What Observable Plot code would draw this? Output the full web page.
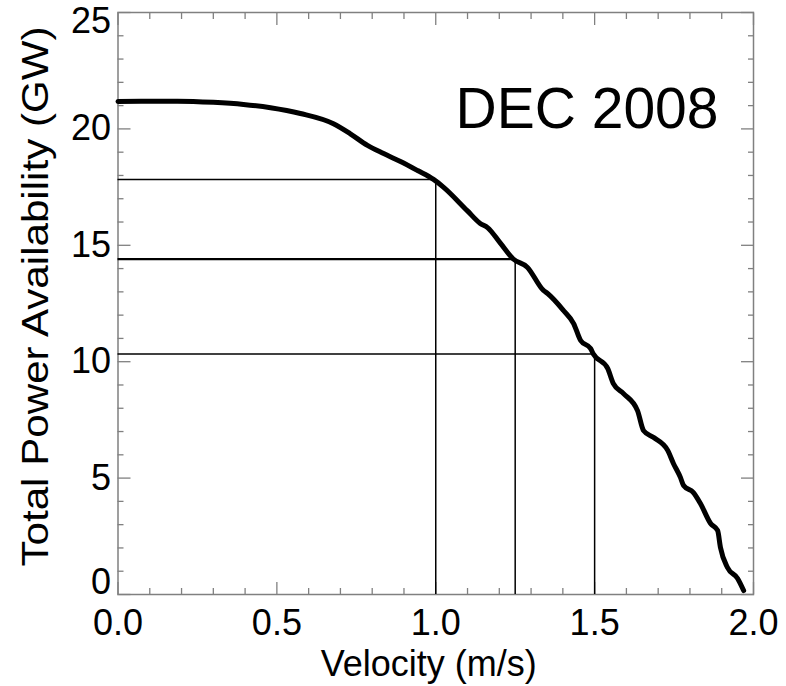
<!DOCTYPE html>
<html>
<head>
<meta charset="utf-8">
<script src="https://cdn.jsdelivr.net/npm/d3@7"></script>
<script src="https://cdn.jsdelivr.net/npm/@observablehq/plot@0.6"></script>
<style>
  html, body { margin: 0; padding: 0; background: #fff; }
  #chart svg { display: block; }
</style>
</head>
<body>
<div id="chart"></div>
<script>
const velocity = [0.0, 0.187, 0.3, 0.395, 0.48, 0.574, 0.678, 0.73, 0.785, 0.836, 0.889, 0.943, 0.993,
  1.024, 1.099, 1.14, 1.163, 1.204, 1.244, 1.288, 1.339, 1.352, 1.402, 1.434, 1.456, 1.487, 1.496,
  1.541, 1.559, 1.591, 1.635, 1.654, 1.686, 1.73, 1.748, 1.77, 1.78, 1.811, 1.833, 1.865, 1.887,
  1.896, 1.918, 1.95, 1.969];
const power = [21.18, 21.19, 21.14, 21.05, 20.91, 20.66, 20.22, 19.8, 19.29, 18.94, 18.6, 18.21, 17.83,
  17.5, 16.49, 15.94, 15.76, 15.08, 14.41, 14.06, 13.06, 12.93, 12.2, 11.64, 10.91, 10.57, 10.33,
  9.71, 9.06, 8.63, 7.9, 7.04, 6.74, 6.19, 5.63, 5.03, 4.68, 4.38, 3.91, 3.05, 2.75,
  2.02, 1.16, 0.69, 0.17];
const crossV = [1.0, 1.25, 1.5];
const crossP = [17.83, 14.41, 10.33];
const xTicks = [0.0, 0.5, 1.0, 1.5, 2.0];
const xMinor = [0.1, 0.2, 0.3, 0.4, 0.6, 0.7, 0.8, 0.9, 1.1, 1.2, 1.3, 1.4, 1.6, 1.7, 1.8, 1.9];
const yTicks = [0, 5, 10, 15, 20, 25];
const yMinor = [1, 2, 3, 4, 6, 7, 8, 9, 11, 12, 13, 14, 16, 17, 18, 19, 21, 22, 23, 24];
const yLabelsMid = [5, 10, 15, 20];
const xTitle = "Velocity (m/s)";
const yTitle = "Total Power Availability (GW)";
const panelTitle = "DEC 2008";

const curve = velocity.map((v, i) => ({v, p: power[i]}));
const cross = crossV.map((v, i) => ({v, p: crossP[i], w: i === 1 ? 2.3 : 1.5}));

const gray = "#808080";
const font = "36px";

const plot = Plot.plot({
  width: 786,
  height: 686,
  marginLeft: 117.5,
  marginRight: 33,
  marginTop: 12,
  marginBottom: 92,
  style: {fontFamily: "'Liberation Sans', Arial, Helvetica, sans-serif", background: "#fff", color: "#000"},
  x: {domain: [0, 2], label: null},
  y: {domain: [0, 25], label: null},
  marks: [
    Plot.axisX(xTicks, {anchor: "bottom", tickSize: -12, fill: "none", stroke: gray, strokeWidth: 1.3, label: null}),
    Plot.axisX(xMinor, {anchor: "bottom", tickSize: -6, fill: "none", stroke: gray, strokeWidth: 1.3, label: null}),
    Plot.axisX(xTicks, {anchor: "top", tickSize: -12, fill: "none", stroke: gray, strokeWidth: 1.3, label: null}),
    Plot.axisX(xMinor, {anchor: "top", tickSize: -6, fill: "none", stroke: gray, strokeWidth: 1.3, label: null}),
    Plot.axisY(yTicks, {anchor: "left", tickSize: -13, fill: "none", stroke: gray, strokeWidth: 1.3, label: null}),
    Plot.axisY(yMinor, {anchor: "left", tickSize: -6, fill: "none", stroke: gray, strokeWidth: 1.3, label: null}),
    Plot.axisY(yTicks, {anchor: "right", tickSize: -13, fill: "none", stroke: gray, strokeWidth: 1.3, label: null}),
    Plot.axisY(yMinor, {anchor: "right", tickSize: -6, fill: "none", stroke: gray, strokeWidth: 1.3, label: null}),
    Plot.axisX(xTicks, {anchor: "bottom", tickSize: 0, tickPadding: 15, fontSize: font, fill: "#000", stroke: "none",
      tickFormat: d => d.toFixed(1), label: null}),
    Plot.axisY(yLabelsMid, {anchor: "left", tickSize: 0, tickPadding: 7, fontSize: font, fill: "#000", stroke: "none", label: null}),
    Plot.axisY([yTicks[0]], {anchor: "left", tickSize: 0, tickPadding: 7, fontSize: font, fill: "#000", stroke: "none", dy: -12, label: null}),
    Plot.axisY([yTicks[yTicks.length - 1]], {anchor: "left", tickSize: 0, tickPadding: 7, fontSize: font, fill: "#000", stroke: "none", dy: 9, label: null}),
    Plot.text([xTitle], {text: d => d, frameAnchor: "bottom", textAnchor: "middle", dx: -7, dy: 70, fontSize: "36px", fill: "#000", lineAnchor: "middle"}),
    Plot.text([yTitle], {text: d => d, frameAnchor: "left", textAnchor: "middle", rotate: -90, dx: -82, dy: -7, fontSize: "36px", fill: "#000", lineAnchor: "middle", className: "ytitle"}),
    Plot.frame({stroke: gray, strokeWidth: 1.5}),
    Plot.ruleY(cross, {y: "p", x1: 0, x2: "v", stroke: "#000", strokeWidth: "w"}),
    Plot.ruleX(cross, {x: "v", y1: 0, y2: "p", stroke: "#000", strokeWidth: 1.5}),
    Plot.line(curve, {x: "v", y: "p", stroke: "#000", strokeWidth: 5, strokeLinejoin: "round", curve: "monotone-x"}),
    Plot.text([panelTitle], {text: d => d, frameAnchor: "top-right", textAnchor: "end", lineAnchor: "top", dx: -35, dy: 75, fontSize: "57px", fill: "#000"})
  ]
});
// stretch the y title along its length to match the reference proportions
d3.select(plot).selectAll(".ytitle text").attr("textLength", 540).attr("lengthAdjust", "spacingAndGlyphs");
document.getElementById("chart").appendChild(plot);
</script>
</body>
</html>
